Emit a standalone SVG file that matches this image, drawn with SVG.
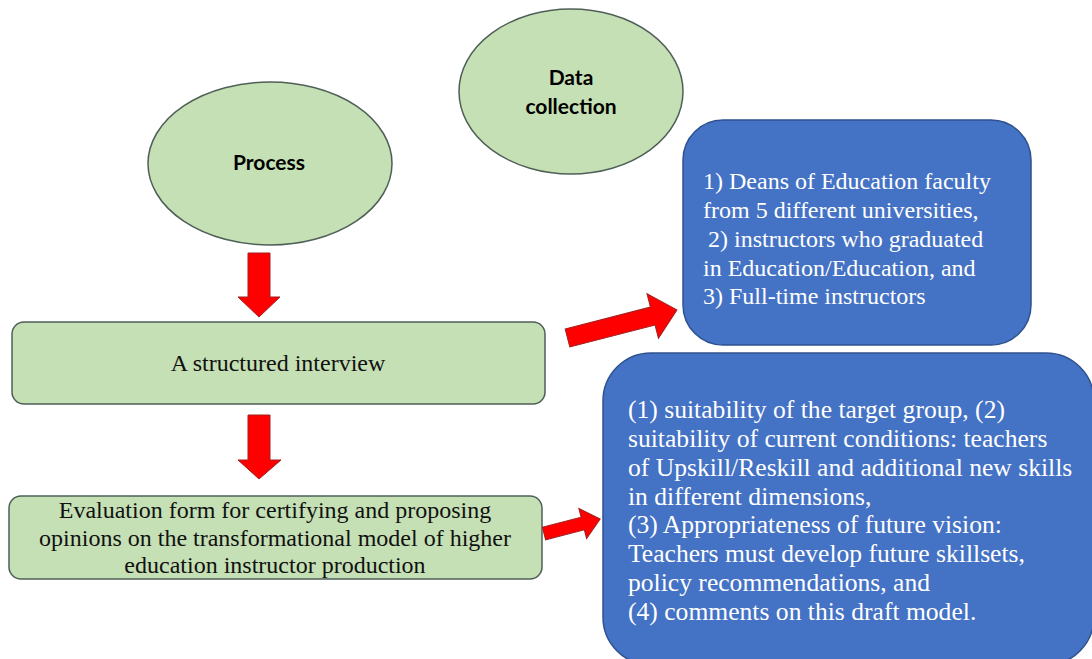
<svg xmlns="http://www.w3.org/2000/svg" width="1092" height="659" viewBox="0 0 1092 659">
  <style>
    .green { fill: #C5E0B4; stroke: #4F5F58; stroke-width: 1.5; }
    .blue { fill: #4472C4; stroke: #2F528F; stroke-width: 1.5; }
    .arrow { fill: #FF0000; stroke: #A02020; stroke-width: 1; }
    .head { font-family: Lato, "Open Sans", sans-serif; font-weight: bold; font-size: 21px; fill: #000; text-anchor: middle; }
    .tnr { font-family: "Liberation Serif", "Times New Roman", serif; font-size: 24px; }
    .dark { fill: #111; text-anchor: middle; }
    .white { fill: #FFFFFF; }
    .camb { font-family: "Liberation Serif", "Times New Roman", serif; font-size: 25.6px; fill: #FFFFFF; }
  </style>
  <rect width="1092" height="659" fill="#FFFFFF"/>

  <g id="process">
    <ellipse class="green" cx="270" cy="163.5" rx="122" ry="81.5"/>
    <text class="head" x="269" y="170">Process</text>
  </g>

  <g id="data-collection">
    <ellipse class="green" cx="571" cy="91.5" rx="112" ry="82.5"/>
    <text class="head" x="571" y="85">Data</text>
    <text class="head" x="571" y="114">collection</text>
  </g>

  <g id="structured-interview">
    <rect class="green" x="12" y="322" width="533" height="82" rx="12"/>
    <text class="tnr dark" x="278" y="371">A structured interview</text>
  </g>

  <g id="evaluation-form">
    <rect class="green" x="9" y="496" width="533" height="83" rx="12"/>
    <text class="tnr dark" x="275" y="518">Evaluation form for certifying and proposing</text>
    <text class="tnr dark" x="275" y="546">opinions on the transformational model of higher</text>
    <text class="tnr dark" x="275" y="573">education instructor production</text>
  </g>

  <g id="participants">
    <rect class="blue" x="683" y="120" width="348" height="225" rx="40"/>
    <text class="tnr white" x="703" y="189">1) Deans of Education faculty</text>
    <text class="tnr white" x="703" y="218">from 5 different universities,</text>
    <text class="tnr white" x="708" y="247">2) instructors who graduated</text>
    <text class="tnr white" x="703" y="276">in Education/Education, and</text>
    <text class="tnr white" x="703" y="304">3) Full-time instructors</text>
  </g>

  <g id="evaluation-criteria">
    <rect class="blue" x="603" y="353" width="491" height="312" rx="48"/>
    <text class="camb" x="628" y="418">(1) suitability of the target group, (2)</text>
    <text class="camb" x="628" y="447">suitability of current conditions: teachers</text>
    <text class="camb" x="628" y="476">of Upskill/Reskill and additional new skills</text>
    <text class="camb" x="628" y="505">in different dimensions,</text>
    <text class="camb" x="628" y="533">(3) Appropriateness of future vision:</text>
    <text class="camb" x="628" y="562">Teachers must develop future skillsets,</text>
    <text class="camb" x="628" y="591">policy recommendations, and</text>
    <text class="camb" x="628" y="620">(4) comments on this draft model.</text>
  </g>

  <g id="connectors">
    <polygon class="arrow" points="248,253 270,253 270,297 280,297 259,317 238,297 248,297"/>
    <polygon class="arrow" points="248,415 270,415 270,460 281,460 259,479 238,460 248,460"/>
    <polygon class="arrow" transform="translate(567.5,338) rotate(-14.4)" points="0,-9.3 88,-9.3 88,-23 113,0 88,23 88,9.3 0,9.3"/>
    <polygon class="arrow" transform="translate(544,533.5) rotate(-14.5)" points="0,-6.5 40,-6.5 40,-15.5 58,0 40,15.5 40,6.5 0,6.5"/>
  </g>
</svg>
